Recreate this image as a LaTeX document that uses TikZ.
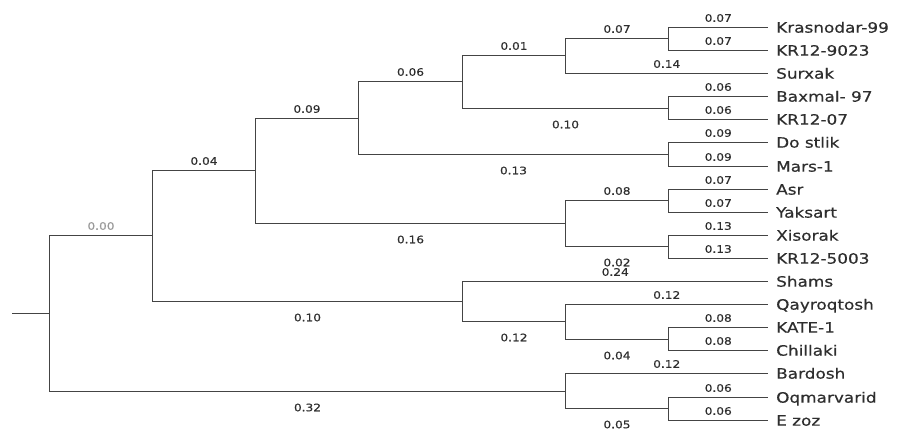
\documentclass[tikz,border=0pt]{standalone}
\usepackage{fontspec}
\setmainfont[FakeStretch=1.18,FakeBold=0.4]{DejaVu Sans}
\definecolor{linecol}{HTML}{444444}
\definecolor{txtcol}{HTML}{2E2E2E}
\definecolor{graytxt}{HTML}{9A9A9A}
\tikzset{
  br/.style={draw=linecol, line width=1.6pt},
  leaf/.style={anchor=west, inner sep=0pt, text=txtcol, text height=10.3pt, text depth=0pt,
    font=\fontsize{14.3}{16}\selectfont},
  labup/.style={pos=0.75, yshift=9.5pt, inner sep=0pt, text=txtcol, font=\fontsize{10.3}{12}\selectfont},
  labdn/.style={pos=0.75, yshift=-16pt, inner sep=0pt, text=txtcol, font=\fontsize{10.3}{12}\selectfont},
}
\begin{document}
\begin{tikzpicture}[x=1pt,y=-1pt]
\useasboundingbox (0,0) rectangle (899,440);
% internal nodes
\coordinate (S) at (12,313.5);
\coordinate (R) at (49.5,313.5);
\coordinate (A) at (152.5,235.5);
\coordinate (B) at (255.5,170.5);
\coordinate (C) at (358.5,118.5);
\coordinate (D) at (462.5,81.5);
\coordinate (E) at (565.5,55.5);
\coordinate (F) at (668.5,38.5);
\coordinate (G) at (668.5,108.5);
\coordinate (H) at (668.5,154.5);
\coordinate (I) at (565.5,223.5);
\coordinate (J) at (668.5,200.5);
\coordinate (K) at (668.5,246.5);
\coordinate (L) at (462.5,301.5);
\coordinate (M) at (565.5,321.5);
\coordinate (N) at (668.5,339.5);
\coordinate (O) at (565.5,391.5);
\coordinate (P) at (668.5,408.5);
% root stub
\draw[br] (S) -- (R);
% internal branches
\draw[br] (R) |- (A) node[labup, text=graytxt]{0.00};
\draw[br] (R) |- (O) node[labdn]{0.32};
\draw[br] (A) |- (B) node[labup]{0.04};
\draw[br] (A) |- (L) node[labdn]{0.10};
\draw[br] (B) |- (C) node[labup]{0.09};
\draw[br] (B) |- (I) node[labdn]{0.16};
\draw[br] (C) |- (D) node[labup]{0.06};
\draw[br] (C) |- (H) node[labdn]{0.13};
\draw[br] (D) |- (E) node[labup]{0.01};
\draw[br] (D) |- (G) node[labdn]{0.10};
\draw[br] (E) |- (F) node[labup]{0.07};
\draw[br] (I) |- (J) node[labup]{0.08};
\draw[br] (I) |- (K) node[labdn]{0.02};
\draw[br] (L) |- (M) node[labdn]{0.12};
\draw[br] (M) |- (N) node[labdn]{0.04};
\draw[br] (O) |- (P) node[labdn]{0.05};
% leaves
\foreach \i/\yy/\nm/\p/\lb in {
  0/27.5/Krasnodar-99/F/0.07, 1/50.5/KR12-9023/F/0.07, 2/73.5/Surxak/E/0.14,
  3/96.5/Baxmal- 97/G/0.06, 4/119.5/KR12-07/G/0.06, 5/142.5/Do stlik/H/0.09,
  6/166.5/Mars-1/H/0.09, 7/189.5/Asr/J/0.07, 8/212.5/Yaksart/J/0.07,
  9/235.5/Xisorak/K/0.13, 10/258.5/KR12-5003/K/0.13, 11/281.5/Shams/L/0.24,
  12/304.5/Qayroqtosh/M/0.12, 13/327.5/KATE-1/N/0.08, 14/350.5/Chillaki/N/0.08,
  15/373.5/Bardosh/O/0.12, 16/397.5/Oqmarvarid/P/0.06, 17/420.5/E zoz/P/0.06}{
  \coordinate (t\i) at (768,\yy);
  \node[leaf] (l\i) at (776,\yy) {\nm};
  \draw[br] (\p) |- (t\i) node[labup]{\lb};
}
\end{tikzpicture}
\end{document}
